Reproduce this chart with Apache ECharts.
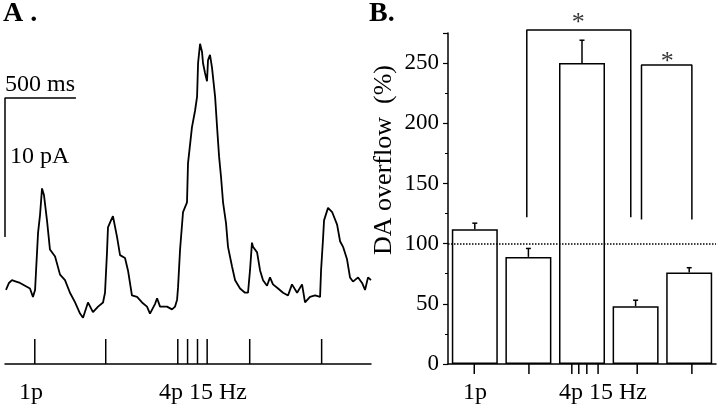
<!DOCTYPE html>
<html>
<head>
<meta charset="utf-8">
<script src="https://cdn.jsdelivr.net/npm/echarts@6/dist/echarts.min.js"></script>
<style>
  html, body { margin: 0; padding: 0; background: #fff; }
  #main { width: 720px; height: 413px; }
</style>
</head>
<body>
<div id="main"></div>
<script>
// panel A: amperometric trace (time in ms, current in pA)
var traceTime = [7, 28, 49, 78, 106, 141, 176, 197, 212, 219, 233, 247, 261, 275, 296, 317, 353, 388, 423, 458,
    494, 529, 550, 564, 585, 620, 656, 691, 705, 719, 726, 747, 761, 790, 811, 846, 867, 895, 931, 966,
    1001, 1022, 1036, 1058, 1072, 1093, 1107, 1142, 1177, 1199, 1213, 1220, 1234, 1255, 1283, 1290, 1318, 1340, 1354, 1361,
    1375, 1389, 1396, 1410, 1424, 1431, 1445, 1459, 1481, 1495, 1509, 1523, 1537, 1558, 1572, 1600, 1622, 1657, 1692, 1713,
    1727, 1741, 1748, 1777, 1798, 1819, 1847, 1868, 1889, 1925, 1960, 1995, 2023, 2059, 2094, 2115, 2150, 2186, 2221, 2228,
    2242, 2249, 2277, 2306, 2341, 2362, 2383, 2411, 2432, 2453, 2489, 2517, 2538, 2559, 2580];
var traceCurrent = [3.6, 4.1, 4.3, 4.2, 4.1, 3.9, 3.7, 3.1, 3.6, 5.0, 7.7, 9.0, 10.9, 10.4, 8.6, 6.5, 6.0, 4.7, 4.3, 3.4,
    2.7, 1.9, 1.6, 1.7, 2.7, 2.0, 2.4, 2.7, 3.4, 6.3, 8.1, 8.6, 8.9, 7.4, 6.1, 5.9, 5.0, 3.2, 3.1, 2.7,
    2.4, 1.9, 1.9, 2.6, 3.0, 2.4, 2.5, 2.4, 2.2, 2.4, 2.9, 3.8, 6.5, 9.2, 9.9, 12.7, 15.3, 16.5, 17.5, 19.9,
    21.3, 20.7, 19.9, 19.2, 18.6, 20.1, 20.5, 19.6, 17.5, 15.3, 13.2, 11.7, 9.9, 8.4, 6.7, 5.3, 4.3, 3.7, 3.4, 3.4,
    5.0, 7.0, 6.7, 6.3, 5.0, 4.3, 3.9, 4.5, 4.0, 3.7, 3.4, 3.2, 4.0, 3.4, 4.0, 2.7, 3.1, 3.2, 3.1, 5.0,
    7.3, 8.6, 9.5, 9.2, 8.3, 7.1, 6.7, 5.8, 4.5, 4.2, 4.5, 4.1, 3.6, 4.5, 4.3];
var stimTimes = [210, 710, 1218, 1287, 1357, 1425, 1725, 2232];
var scaleBar = [[0, 7.4], [0, 17.4], [500, 17.4]];

// panel B: DA overflow (%)
var barPos = [0.5, 1.5, 2.5, 3.5, 4.5];
var overflow = [112, 89, 250, 48, 76];
var overflowErr = [117, 96, 269, 53, 80];
var stimPosB = [0.49, 1.51, 2.31, 2.44, 2.59, 2.8, 3.53, 4.55];
var bracket1 = [[1.47, 122], [1.47, 277.5], [3.41, 277.5], [3.41, 122]];
var bracket2 = [[3.61, 120], [3.61, 248.4], [4.55, 248.4], [4.55, 120]];
var stars = [[2.43, 287], [4.09, 255]];

var myChart;
var serif = 'Liberation Serif';

window.onload = function () {
    initChart();
};

function hiddenAxis(idx, min, max, extra) {
    var ax = {
        type: 'value', gridIndex: idx, min: min, max: max,
        axisLine: { show: false }, axisTick: { show: false },
        axisLabel: { show: false }, splitLine: { show: false }
    };
    for (var k in extra) ax[k] = extra[k];
    return ax;
}

function txt(x, y, s, size, extra) {
    var el = {
        type: 'text', x: x, y: y,
        style: { text: s, fontFamily: serif, fontSize: size, fill: '#000', verticalAlign: 'middle' }
    };
    for (var k in extra) {
        if (k === 'rotation') el.rotation = extra[k];
        else el.style[k] = extra[k];
    }
    return el;
}

function initChart() {
    myChart = echarts.init(document.getElementById('main'));

    var trace = traceTime.map(function (t, i) { return [t, traceCurrent[i]]; });
    var stimA = stimTimes.map(function (t) { return [t, 1]; });
    var bars = barPos.map(function (x, i) { return [x, overflow[i]]; });
    var errs = barPos.map(function (x, i) { return [x, overflow[i], overflowErr[i]]; });
    var stimB = stimPosB.map(function (x) { return [x, 1]; });

    var options = {
        animation: false,
        backgroundColor: '#fff',
        grid: [
            { left: 5, top: 34, width: 366, height: 306 },   // trace
            { left: 5, top: 339, width: 366, height: 25 },   // stim A
            { left: 448, top: 33, width: 268, height: 331 }, // bars
            { left: 448, top: 364, width: 268, height: 10 }  // stim B
        ],
        xAxis: [
            hiddenAxis(0, 0, 2580),
            hiddenAxis(1, 0, 2580, { axisLine: { show: true, lineStyle: { color: '#000', width: 1.5 } } }),
            hiddenAxis(2, 0, 5, { axisLine: { show: true, onZero: false, lineStyle: { color: '#000', width: 1.5 } } }),
            hiddenAxis(3, 0, 5)
        ],
        yAxis: [
            hiddenAxis(0, 0, 22),
            hiddenAxis(1, 0, 1),
            {
                type: 'value', gridIndex: 2, min: 0, max: 275, interval: 50,
                axisLine: { show: true, lineStyle: { color: '#000', width: 1.5 } },
                axisTick: { show: true, length: 5, lineStyle: { color: '#000', width: 1.2 } },
                minorTick: { show: true, splitNumber: 2, length: 3, lineStyle: { color: '#000', width: 1 } },
                axisLabel: { color: '#000', fontFamily: serif, fontSize: 23, margin: 9, showMaxLabel: false },
                splitLine: { show: false }
            },
            hiddenAxis(3, 0, 1, { inverse: true })
        ],
        series: [
            {
                type: 'line', xAxisIndex: 0, yAxisIndex: 0, data: trace,
                showSymbol: false, lineStyle: { color: '#000', width: 1.8 }
            },
            {
                type: 'line', xAxisIndex: 0, yAxisIndex: 0, data: scaleBar,
                showSymbol: false, lineStyle: { color: '#000', width: 1.5 }
            },
            {
                type: 'bar', xAxisIndex: 1, yAxisIndex: 1, data: stimA,
                barWidth: 1.5, itemStyle: { color: '#000' }
            },
            {
                type: 'bar', xAxisIndex: 2, yAxisIndex: 2, data: bars, barWidth: 46,
                itemStyle: { color: '#fff', borderColor: '#000', borderWidth: 1.5 },
                markLine: {
                    silent: true, symbol: 'none', label: { show: false },
                    lineStyle: { color: '#000', type: 'dotted', width: 1.5 },
                    data: [{ yAxis: 100 }]
                }
            },
            {
                type: 'custom', xAxisIndex: 2, yAxisIndex: 2, data: errs,
                renderItem: function (params, api) {
                    var top = api.coord([api.value(0), api.value(1)]);
                    var hi = api.coord([api.value(0), api.value(2)]);
                    var st = { stroke: '#000', lineWidth: 1.5 };
                    return {
                        type: 'group', children: [
                            { type: 'line', shape: { x1: top[0], y1: top[1], x2: hi[0], y2: hi[1] }, style: st },
                            { type: 'line', shape: { x1: hi[0] - 2.5, y1: hi[1], x2: hi[0] + 2.5, y2: hi[1] }, style: st }
                        ]
                    };
                }
            },
            {
                type: 'line', xAxisIndex: 2, yAxisIndex: 2, data: bracket1, clip: false,
                showSymbol: false, lineStyle: { color: '#000', width: 1.5 }
            },
            {
                type: 'line', xAxisIndex: 2, yAxisIndex: 2, data: bracket2, clip: false,
                showSymbol: false, lineStyle: { color: '#000', width: 1.5 }
            },
            {
                type: 'scatter', xAxisIndex: 2, yAxisIndex: 2, data: stars, clip: false,
                symbolSize: 1, itemStyle: { color: 'rgba(0,0,0,0)' },
                label: {
                    show: true, position: 'inside', formatter: '*', offset: [0, 5],
                    color: '#000', fontFamily: serif, fontSize: 26
                }
            },
            {
                type: 'bar', xAxisIndex: 3, yAxisIndex: 3, data: stimB,
                barWidth: 1.5, itemStyle: { color: '#000' }
            }
        ],
        graphic: [
            txt(3, 14, 'A .', 28, { fontWeight: 'bold' }),
            txt(369, 14, 'B.', 28, { fontWeight: 'bold' }),
            txt(5, 85, '500 ms', 24),
            txt(10, 157, '10 pA', 24),
            txt(31, 393, '1p', 24, { align: 'center' }),
            txt(203, 393, '4p 15 Hz', 24, { align: 'center' }),
            txt(475, 393, '1p', 24, { align: 'center' }),
            txt(603, 393, '4p 15 Hz', 24, { align: 'center' }),
            txt(384, 160, 'DA overflow  (%)', 26, { align: 'center', rotation: Math.PI / 2 })
        ]
    };
    myChart.setOption(options);
}
</script>
</body>
</html>
